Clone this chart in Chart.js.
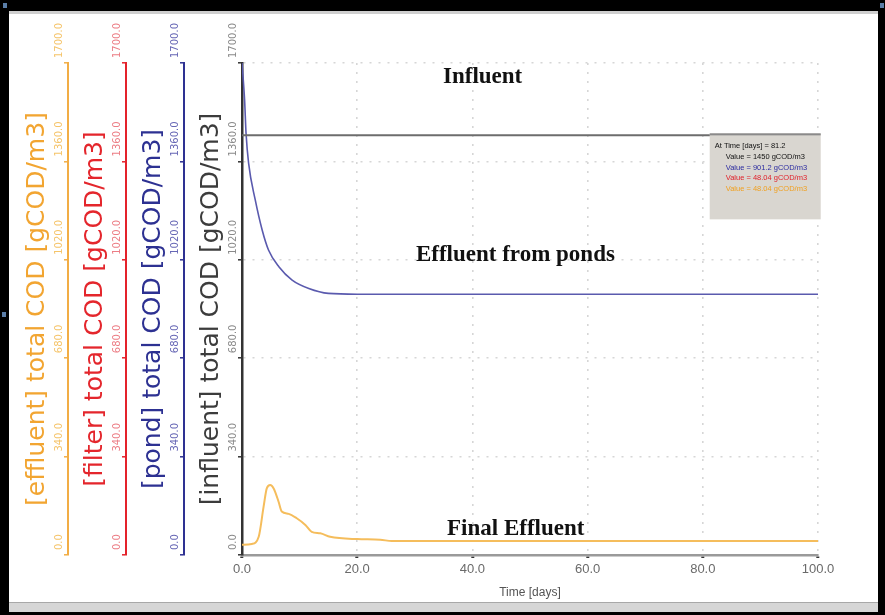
<!DOCTYPE html>
<html>
<head>
<meta charset="utf-8">
<script src="https://cdn.jsdelivr.net/npm/chart.js@4.4.1/dist/chart.umd.min.js"></script>
<style>
  html, body { margin: 0; padding: 0; }
  body { width: 885px; height: 615px; background: #000; position: relative; overflow: hidden; }
  #panel { position: absolute; left: 9px; top: 11px; width: 869px; height: 591px; background: #fff; border-top: 3px solid #cfcfcf; box-sizing: border-box; }
  #strip { position: absolute; left: 9px; top: 602px; width: 869px; height: 10px; background: #d6d6d6; border-top: 1px solid #a8a8a8; box-sizing: border-box; }
  .mark { position: absolute; width: 4px; height: 5px; background: #5b7ea8; }
  canvas { position: absolute; left: 0; top: 0; }
</style>
</head>
<body>
<div id="panel"></div>
<div id="strip"></div>
<div class="mark" style="left:3px;top:3px"></div>
<div class="mark" style="left:880px;top:3px"></div>
<div class="mark" style="left:2px;top:312px"></div>
<canvas id="codChart" width="885" height="615"></canvas>
<script>
// Values (time in days, COD in gCOD/m3)
const influentTime = [0, 100];
const influentCod = [1450, 1450];

const pondTime = [0, 0.45, 0.7, 1.15, 2.3, 3.5, 4.6, 6.4, 8.7, 11.6, 15, 20, 100];
const pondCod = [1700, 1572, 1458, 1353, 1227, 1123, 1054, 996, 950, 921, 904, 901.2, 901.2];

const effluentTime = [0, 1.7, 2.9, 3.75, 4.3, 4.9, 5.5, 6.35, 6.9, 8.1, 9.5, 11, 12.1, 13.6, 15.3, 20, 24, 26, 100];
const effluentCod = [35, 38, 63, 167, 230, 242, 230, 184, 150, 142, 127, 104, 80, 75, 63, 55, 53, 48, 48];

// one COD axis per unit, left to right
const codAxisIds = ['yEff', 'yFil', 'yPond', 'yInf'];
const codAxisTitles = ['[effluent] total COD [gCOD/m3]', '[filter] total COD [gCOD/m3]', '[pond] total COD [gCOD/m3]', '[influent] total COD [gCOD/m3]'];
const codMin = 0, codMax = 1700, codStep = 340;
const timeMin = 0, timeMax = 100, timeStep = 20;

// cursor read-out box
const readoutTime = 81.2;
const readoutValues = [1450, 901.2, 48.04, 48.04];
const readoutUnits = ['1450', '901.2', '48.04', '48.04'];

// bold labels written on the plot
const noteTexts = ['Influent', 'Effluent from ponds', 'Final Effluent'];
const noteTimes = [34.9, 30.2, 35.6];
const noteCods = [1631, 1016, 69];

const axisLineColors = ['#f2ad45', '#e4222b', '#2e3192', '#333333'];
const axisTitleColors = ['#f2a531', '#e4262c', '#2d3192', '#3c3c3c'];
const tickLabelColors = ['#f5c46a', '#ec7d85', '#6767b5', '#8a8a8a'];
const readoutColors = ['#111111', '#111111', '#2b2ba0', '#e0202a', '#f0a020'];
const narrowFont = '"Liberation Sans Narrow", "Liberation Sans", Arial, sans-serif';
const gridColor = '#d6d6d6';

function codAxis(k) {
  const main = codAxisIds[k] === 'yInf';
  return {
    type: 'linear',
    position: 'left',
    weight: codAxisIds.length - k,
    min: codMin,
    max: codMax,
    ticks: { display: false, stepSize: codStep },
    grid: {
      drawOnChartArea: main,
      color: ctx => (ctx.tick && ctx.tick.value === 0) ? 'rgba(0,0,0,0)' : gridColor,
      lineWidth: 1.6,
      tickLength: 4,
      tickColor: axisLineColors[k],
      tickWidth: 1.5,
      tickBorderDash: []
    },
    border: { color: axisLineColors[k], width: main ? 2.5 : 2, dash: [2, 7] },
    title: {
      display: true,
      text: codAxisTitles[k],
      color: axisTitleColors[k],
      font: { family: 'DejaVu Sans', size: 25 },
      padding: { top: 12, bottom: 0 }
    },
    afterFit: s => { s.width = 58; }
  };
}

const rotatedTickLabels = {
  id: 'rotatedTickLabels',
  afterDraw(chart) {
    const ctx = chart.ctx;
    codAxisIds.forEach((id, k) => {
      const scale = chart.scales[id];
      ctx.save();
      ctx.fillStyle = tickLabelColors[k];
      ctx.font = '10px "DejaVu Sans"';
      ctx.textAlign = 'left';
      ctx.textBaseline = 'alphabetic';
      scale.ticks.forEach(tick => {
        const y = scale.getPixelForValue(tick.value);
        ctx.save();
        ctx.translate(scale.right - 6, y - 5);
        ctx.rotate(-Math.PI / 2);
        ctx.fillText(tick.value.toFixed(1), 0, 0);
        ctx.restore();
      });
      ctx.restore();
    });
  }
};

const plotNotes = {
  id: 'plotNotes',
  afterDatasetsDraw(chart) {
    const ctx = chart.ctx;
    const xs = chart.scales.x, ys = chart.scales.yInf;
    ctx.save();
    ctx.font = 'bold 23px "Liberation Serif", "Times New Roman", serif';
    ctx.fillStyle = '#111';
    ctx.textAlign = 'left';
    ctx.textBaseline = 'alphabetic';
    noteTexts.forEach((t, i) => {
      ctx.fillText(t, xs.getPixelForValue(noteTimes[i]), ys.getPixelForValue(noteCods[i]));
    });

    // read-out box at the cursor time
    const left = xs.getPixelForValue(readoutTime);
    const top = ys.getPixelForValue(readoutValues[0]) - 2;
    const w = 111, h = 86;
    ctx.fillStyle = '#d9d6d0';
    ctx.fillRect(left, top, w, h);
    ctx.fillStyle = '#8a8a8a';
    ctx.fillRect(left, top, w, 2);
    ctx.font = '7.5px "Liberation Sans", Arial, sans-serif';
    ctx.fillStyle = readoutColors[0];
    ctx.fillText('At Time [days] = ' + readoutTime.toFixed(1), left + 5, top + 15);
    readoutUnits.forEach((v, i) => {
      ctx.fillStyle = readoutColors[i + 1];
      ctx.fillText('Value = ' + v + ' gCOD/m3', left + 16, top + 15 + 10.7 * (i + 1));
    });
    ctx.restore();
  }
};

const toPoints = (ts, vs) => ts.map((t, i) => ({ x: t, y: vs[i] }));

const scales = {
  x: {
    type: 'linear',
    position: 'bottom',
    min: timeMin,
    max: timeMax,
    ticks: {
      stepSize: timeStep,
      color: '#6a6a6a',
      font: { family: narrowFont, size: 13 },
      padding: 4,
      maxRotation: 0,
      callback: v => v.toFixed(1)
    },
    grid: {
      color: ctx => (ctx.tick && ctx.tick.value === 0) ? 'rgba(0,0,0,0)' : gridColor,
      lineWidth: 1.6,
      tickLength: 3,
      tickColor: '#333',
      tickWidth: 3,
      tickBorderDash: []
    },
    border: { color: '#9a9a9a', width: 2.5, dash: [2, 7] },
    title: {
      display: true,
      text: 'Time [days]',
      color: '#555',
      font: { family: narrowFont, size: 12 },
      padding: { top: 0, bottom: 15 }
    },
    afterFit: s => { s.height = 60; }
  }
};
codAxisIds.forEach((id, k) => { scales[id] = codAxis(k); });

new Chart(document.getElementById('codChart'), {
  type: 'line',
  data: {
    datasets: [
      {
        label: '[influent] total COD',
        data: toPoints(influentTime, influentCod),
        yAxisID: 'yInf',
        borderColor: '#6d6d6d',
        borderWidth: 2,
        pointRadius: 0
      },
      {
        label: '[pond] total COD',
        data: toPoints(pondTime, pondCod),
        yAxisID: 'yPond',
        borderColor: '#5a5aae',
        borderWidth: 1.6,
        pointRadius: 0,
        cubicInterpolationMode: 'monotone'
      },
      {
        label: '[effluent] total COD',
        data: toPoints(effluentTime, effluentCod),
        yAxisID: 'yEff',
        borderColor: '#f5bd5c',
        borderWidth: 2,
        pointRadius: 0,
        cubicInterpolationMode: 'monotone'
      }
    ]
  },
  options: {
    responsive: false,
    animation: false,
    devicePixelRatio: 1,
    layout: { padding: { left: 10, top: 63, right: 67, bottom: 0 } },
    scales: scales,
    plugins: {
      legend: { display: false },
      tooltip: { enabled: false }
    }
  },
  plugins: [rotatedTickLabels, plotNotes]
});
</script>
</body>
</html>
